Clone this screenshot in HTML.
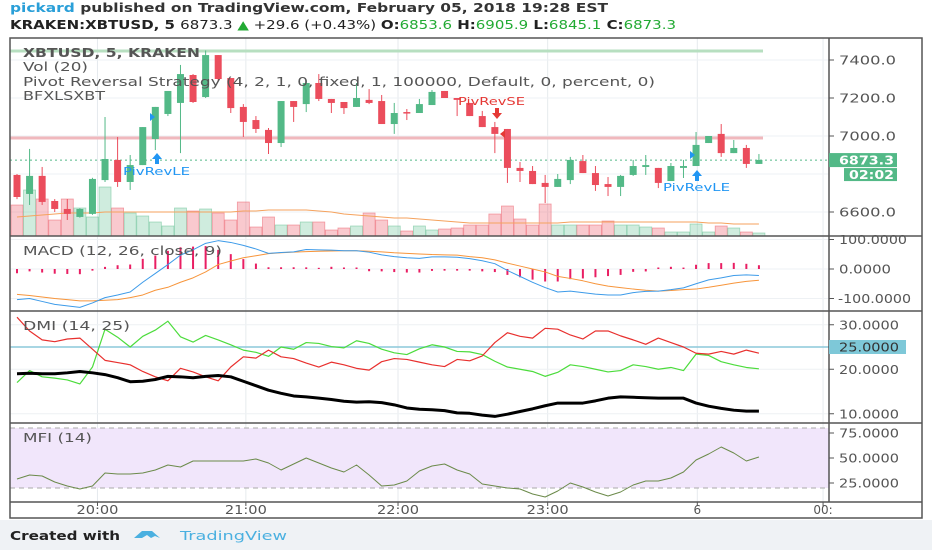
<!DOCTYPE html>
<html><head><meta charset="utf-8"><style>
html,body{margin:0;padding:0;background:#fff;}
svg{display:block;font-family:"DejaVu Sans","Liberation Sans",sans-serif;}
</style></head><body>
<svg id="c" width="932" height="550" viewBox="0 0 932 550" xmlns="http://www.w3.org/2000/svg">
<rect x="0" y="0" width="932" height="550" fill="#fff"/>
<rect x="0" y="520" width="932" height="30" fill="#eff2f5"/>
<text x="10" y="12" font-size="12" font-weight="bold" fill="#2a9fd8" textLength="598" lengthAdjust="spacingAndGlyphs">pickard<tspan fill="#333"> published on TradingView.com, February 05, 2018 19:28 EST</tspan></text>
<text x="10" y="29" font-size="12" font-weight="bold" fill="#222" textLength="666" lengthAdjust="spacingAndGlyphs">KRAKEN:XBTUSD, 5 <tspan font-weight="normal">6873.3 </tspan><tspan fill="#22aa33">▲</tspan><tspan font-weight="normal"> +29.6 (+0.43%) </tspan>O:<tspan fill="#22aa33" font-weight="normal">6853.6</tspan> H:<tspan fill="#22aa33" font-weight="normal">6905.9</tspan> L:<tspan fill="#22aa33" font-weight="normal">6845.1</tspan> C:<tspan fill="#22aa33" font-weight="normal">6873.3</tspan></text>
<g id="grid"></g>
<g id="marks"></g>
<g id="frame" fill="none" stroke="#555" stroke-width="1.5">
<rect x="10" y="38" width="912" height="480"/>
<line x1="829" y1="38" x2="829" y2="502"/>
<line x1="10" y1="236" x2="922" y2="236"/>
<line x1="10" y1="311" x2="922" y2="311"/>
<line x1="10" y1="423" x2="922" y2="423"/>
<line x1="10" y1="502" x2="922" y2="502"/>
</g>
<g font-size="12" fill="#555">
<text x="23" y="57" font-weight="bold" textLength="177" lengthAdjust="spacingAndGlyphs">XBTUSD, 5, KRAKEN</text>
<text x="23" y="71" textLength="65" lengthAdjust="spacingAndGlyphs">Vol (20)</text>
<text x="23" y="86" textLength="632" lengthAdjust="spacingAndGlyphs">Pivot Reversal Strategy (4, 2, 1, 0, fixed, 1, 100000, Default, 0, percent, 0)</text>
<text x="23" y="100" textLength="82" lengthAdjust="spacingAndGlyphs">BFXLSXBT</text>
<text x="23" y="255" textLength="199" lengthAdjust="spacingAndGlyphs">MACD (12, 26, close, 9)</text>
<text x="23" y="330" textLength="107" lengthAdjust="spacingAndGlyphs">DMI (14, 25)</text>
<text x="23" y="442" textLength="69" lengthAdjust="spacingAndGlyphs">MFI (14)</text>
</g>
<g id="axis" font-size="12" fill="#555"></g>
<text x="10" y="540" font-size="12" font-weight="bold" fill="#222" textLength="110" lengthAdjust="spacingAndGlyphs">Created with</text>
<path d="M134 538 l8-7 h10 l8 7 l-5 -2 l-4 2 l-4-3 l-5 3z" fill="#4ab0e0"/>
<text x="180" y="540" font-size="12" fill="#4ab0e0" textLength="107" lengthAdjust="spacingAndGlyphs">TradingView</text>
</svg>
<script>
const opens=[6795,6695,6790,6658,6616,6574,6590,6768,6874,6758,6847,6984,7116,7174,7321,7205,7426,7305,7153,7084,7032,6963,7184,7168,7279,7195,7179,7153,7190,7184,7063,7126,7121,7163,7237,7200,7174,7105,7047,7037,6832,6816,6753,6732,6768,6868,6805,6747,6732,6795,6837,6832,6763,6832,6842,6963,7011,6910,6937,6853];
const highs=[6800,6932,6837,6668,6668,6620,6780,7100,6995,6900,7047,7153,7237,7374,7326,7450,7426,7305,7168,7105,7042,7184,7184,7295,7326,7195,7179,7279,7247,7216,7174,7142,7195,7242,7237,7200,7174,7132,7074,7037,6863,6842,6795,6800,6890,6900,6842,6784,6795,6874,6900,6832,6858,6874,7021,7000,7063,6979,6953,6905];
const lows=[6668,6637,6637,6600,6558,6570,6585,6758,6732,6716,6847,6926,7105,6910,7174,7200,7290,7121,6995,7016,6905,6942,7074,7126,7184,7121,7116,7153,7168,7063,7011,7084,7121,7163,7200,7105,7105,7047,6910,6753,6758,6747,6647,6732,6747,6805,6711,6684,6684,6790,6795,6726,6763,6779,6842,6963,6890,6910,6832,6853];
const closes=[6679,6790,6653,6616,6590,6616,6774,6879,6758,6847,7047,7153,7237,7326,7179,7426,7300,7147,7074,7037,6963,7184,7153,7279,7195,7174,7147,7200,7174,7063,7121,7121,7168,7232,7200,7190,7105,7047,7011,6832,6816,6747,6732,6774,6874,6805,6742,6732,6790,6842,6847,6753,6842,6842,6953,7000,6910,6937,6853,6874];
const volumes=[31,46,37,16,37,28,19,49,28,23,20,14,10,28,25,27,23,16,34,9,19,11,11,14,14,6,8,10,23,16,10,5,10,6,7,8,11,11,22,30,17,11,32,11,11,11,11,15,11,11,9,8,4,4,12,4,10,8,4,3];
const volMA=[19,20,21,22,23,23,23,24,24,24,24,24,24,24,24,24,24,24,25,25,26,26,26,26,25,24,22,21,20,19,18,18,17,16,15,14,13,13,13,13,13,13,13,13,14,14,14,14,14,14,14,14,14,14,14,13,13,12,12,12];
const macdLine=[-104,-100,-110,-120,-125,-130,-115,-97,-88,-78,-45,-15,15,47,65,87,96,90,80,68,53,56,58,66,65,64,62,62,57,48,42,38,36,41,41,40,35,28,18,-5,-25,-45,-63,-78,-75,-80,-85,-88,-88,-80,-76,-75,-70,-64,-50,-37,-30,-22,-20,-22];
const signalLine=[-86,-90,-95,-100,-104,-108,-108,-106,-104,-97,-88,-72,-62,-45,-30,-10,15,27,38,45,52,55,57,59,60,61,62,62,60,58,55,53,51,49,48,47,42,38,31,20,10,0,-10,-25,-32,-40,-50,-58,-63,-68,-72,-75,-73,-70,-68,-62,-55,-48,-42,-38];
const diPlus=[17,19.7,18.3,18,17.6,16.7,20.5,29,27.2,25,27.4,28.8,30.8,27.3,26.1,27.6,26.6,25.5,24.3,23.8,22.9,25,24.5,26,25.8,25.1,24.8,26.4,25.8,24.5,23.7,23.3,24.6,25.5,25,24,23.9,23.3,21.8,20.5,20,19.5,18.4,19.3,21,20.6,20,19.4,19.7,21,20.6,20,20.4,19.7,23.4,23.1,21.7,21,20.4,20.1];
const diMinus=[31.7,28.6,26.6,26.2,26.8,27,24.5,22,21.5,21,19.5,18.3,17.4,20.2,19.4,18.3,17.4,20.5,22.8,22.5,24.3,22.8,22.4,21.4,20.5,21.6,21,20.2,19.8,21.7,22.4,22.2,21.6,21,20.6,22.2,21.9,23,26,28.2,27.4,27,29.2,29,27.7,26.8,28.6,28.6,27.5,26.6,25.6,27,26,25,23.6,23.4,24,23.4,24.3,23.6];
const adx=[19,19.1,19,19,19.2,19.5,19.2,18.8,18.1,17.2,17.3,17.7,18.4,18.3,18.1,18.4,18.6,18.3,17.3,16.3,15.3,14.6,14,13.8,13.5,13.2,12.8,12.6,12.7,12.5,12,11.3,11,10.9,10.7,10.2,10.1,9.7,9.4,9.9,10.5,11.1,11.8,12.4,12.4,12.4,12.9,13.5,13.8,13.7,13.6,13.5,13.5,13.5,12.4,11.7,11.2,10.8,10.6,10.6];
const mfi=[29,33,32,26,22,19,22,35,34,34,35,38,43,41,47,47,47,47,47,49,45,38,44,50,45,40,36,43,33,22,23,27,37,42,44,38,34,24,22,20,19,14,11,17,25,21,16,12,16,23,27,27,30,36,48,54,61,55,47,51];
const timeLabels=["20:00","21:00","22:00","23:00","6","00:"];
const timeIdx=[6.4,18.2,30.3,42.2,54.1,64.1];
const priceTicks=[7400,7200,7000,6600];
const macdTicks=[100,0,-100];
const dmiTicks=[30,20,10];
const mfiTicks=[75,50,25];

const NS="http://www.w3.org/2000/svg";
const marks=document.getElementById('marks'),grid=document.getElementById('grid'),axis=document.getElementById('axis');
function el(tag,attrs,parent){const e=document.createElementNS(NS,tag);for(const k in attrs)e.setAttribute(k,attrs[k]);(parent||marks).appendChild(e);return e;}
const xB=i=>17+i*12.575;
const yP=p=>136-(p-7000)*0.19;
const yM=v=>269-v*0.295;
const yD=v=>347-(v-25)*4.45;
const yF=v=>458-(v-50);
const GREEN="#53b987",RED="#eb4d5c";

timeIdx.forEach(t=>{const l=el('line',{x1:xB(t),x2:xB(t),y1:38,y2:502,stroke:'#e6eaee'},grid);

});
[priceTicks.map(yP),macdTicks.map(yM),[yD(30),yD(20),yD(10)],mfiTicks.map(yF),[yP(6800)]].flat().forEach(y=>{const l=el('line',{x1:10,x2:829,y1:y,y2:y,stroke:'#eef1f4'},grid);

});

const band=el('rect',{x:10,y:yF(80),width:819,height:yF(20)-yF(80),fill:'#f1e6fb'});


[80,20].forEach(v=>{const l=el('line',{x1:10,x2:829,y1:yF(v),y2:yF(v),stroke:'#aaa','stroke-dasharray':'5,4'});

});

volumes.forEach((v,i)=>{const up=closes[i]>=opens[i];const r=el('rect',{x:xB(i)-6,y:236-v,width:12,height:v,fill:up?'rgba(83,185,135,0.28)':'rgba(235,77,92,0.3)',stroke:up?'rgba(83,185,135,0.5)':'rgba(235,77,92,0.5)','stroke-width':0.8});

});
const vma=el('polyline',{points:volMA.map((v,i)=>xB(i)+','+(236-v)).join(' '),fill:'none',stroke:'#f5a25d','stroke-width':1});



const gb=el('line',{x1:10,x2:763,y1:51,y2:51,stroke:'#b7dfc0','stroke-width':3});


const rb=el('line',{x1:10,x2:763,y1:138,y2:138,stroke:'#f0b8bd','stroke-width':3});


const lp=el('line',{x1:10,x2:829,y1:yP(6873.3),y2:yP(6873.3),stroke:'#53b987','stroke-dasharray':'2,3'});



opens.forEach((o,i)=>{const c=closes[i],up=c>=o,col=up?GREEN:RED,x=xB(i);
const w=el('line',{x1:x,x2:x,y1:yP(highs[i]),y2:yP(lows[i]),stroke:col,'stroke-width':1});


const t=Math.min(yP(o),yP(c)),h=Math.max(1.5,Math.abs(yP(o)-yP(c)));
const b=el('rect',{x:x-3.5,y:t,width:7,height:h,fill:col});

});

function sig(txt,x,y,tx,ty,col,down){
 const a=el('path',{d:down?`M${x-5} ${y} h10 l-5 6z M${x-2} ${y-5} h4 v5 h-4z`:`M${x-5} ${y} h10 l-5 -6z M${x-2} ${y} h4 v5 h-4z`,fill:col});
 
 
 const t=el('text',{x:tx,y:ty,'font-size':11,fill:col,textLength:67,lengthAdjust:'spacingAndGlyphs'});t.textContent=txt;
 
 
}
sig('PivRevLE',157,159,123,175,'#2196f3',false);
sig('PivRevSE',497,113,458,105,'#e53935',true);
sig('PivRevLE',697,176,663,191,'#2196f3',false);
[[150,117,1,'#2196f3'],[690,155,1,'#2196f3'],[505,134,-1,'#e53935']].forEach(([x,y,d,c])=>{const p=el('path',{d:`M${x} ${y-4} l${5*d} 4 l${-5*d} 4z`,fill:c});

});

macdLine.forEach((v,i)=>{const hv=v-signalLine[i];const l=el('line',{x1:xB(i),x2:xB(i),y1:yM(0),y2:yM(hv*0.8)+(Math.abs(hv)<5?(hv>=0?-1.5:1.5):0),stroke:'#e91e63','stroke-width':2});

});
function line(arr,fy,col,w,name){const p=el('polyline',{points:arr.map((v,i)=>xB(i)+','+fy(v)).join(' '),fill:'none',stroke:col,'stroke-width':w,'stroke-linejoin':'round'});

}
line(signalLine,yM,'#f7953b',1,'macd-signal-line');
line(macdLine,yM,'#3d9be9',1,'macd-line');

const th=el('line',{x1:10,x2:829,y1:yD(25),y2:yD(25),stroke:'#8cc8da','stroke-width':1.5});


line(diPlus,yD,'#4cdc3c',1.2,'di-plus-line');
line(diMinus,yD,'#e8302e',1.2,'di-minus-line');
line(adx,yD,'#000',3,'adx-line');

line(mfi,yF,'#6b8a4a',1,'mfi-line');

function lab(txt,y,name,w,x0){const t=el('text',{x:x0||839,y:y+4.5,textLength:w,lengthAdjust:'spacingAndGlyphs'},axis);t.textContent=txt;


const tk=el('line',{x1:829,x2:834,y1:y,y2:y,stroke:'#555'},axis);

}
priceTicks.forEach(p=>lab(p.toFixed(1),yP(p),'price-tick-label',57,839));
macdTicks.forEach(v=>lab(v.toFixed(4),yM(v),'macd-tick-label',v<0?73:(v>0?68:52),v<0?838:839));
dmiTicks.forEach(v=>lab(v.toFixed(4),yD(v),'dmi-tick-label',60,839));
mfiTicks.forEach(v=>lab(v.toFixed(4),yF(v),'mfi-tick-label',60,839));
const bx=el('rect',{x:829,y:yD(25)-7,width:77,height:14,fill:'#7ec8d8'},axis);


const bt=el('text',{x:839,y:yD(25)+4.5,fill:'#333',textLength:60,lengthAdjust:'spacingAndGlyphs'},axis);bt.textContent='25.0000';


const pb=el('rect',{x:829,y:yP(6873.3)-7,width:68,height:14,fill:'#53b987'},axis);


const pt=el('text',{x:839,y:yP(6873.3)+4.5,fill:'#fff','font-weight':'bold',textLength:55,lengthAdjust:'spacingAndGlyphs'},axis);pt.textContent='6873.3';


const cb=el('rect',{x:844,y:yP(6873.3)+8,width:53,height:13,fill:'#53b987'},axis);


const ct=el('text',{x:849,y:yP(6873.3)+19,fill:'#fff','font-weight':'bold',textLength:45,lengthAdjust:'spacingAndGlyphs'},axis);ct.textContent='02:02';


timeLabels.forEach((s,i)=>{const x=xB(timeIdx[i]);const t=el('text',{x:x,y:514,'text-anchor':'middle'},axis);t.textContent=s;
if(s.length===5){t.setAttribute('textLength',42);t.setAttribute('lengthAdjust','spacingAndGlyphs');}


const tk=el('line',{x1:x,x2:x,y1:502,y2:506,stroke:'#555'},axis);

});
</script>
</body></html>
